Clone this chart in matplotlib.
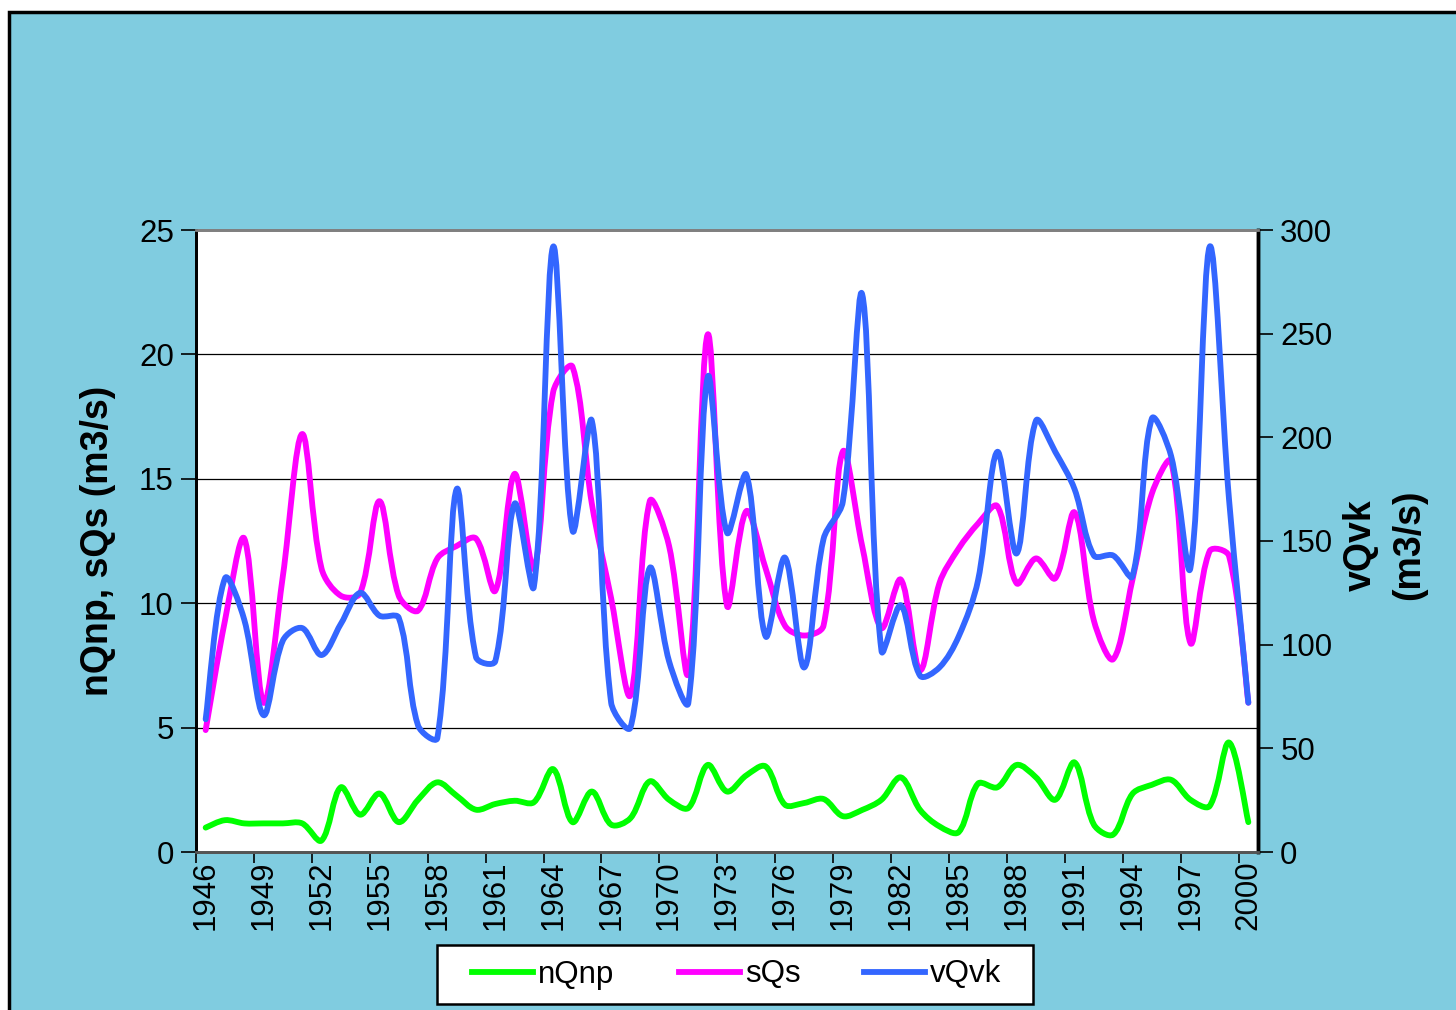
import numpy as np
import matplotlib
matplotlib.use("Agg")
import matplotlib.pyplot as plt
from matplotlib.path import Path
from matplotlib.patches import PathPatch, Rectangle
from matplotlib.lines import Line2D

plt.rcParams['font.family'] = ['Liberation Sans', 'DejaVu Sans']

years = list(range(1946, 2001))

nQnp = [0.98, 1.28, 1.15, 1.15, 1.15, 1.15, 0.46, 2.6, 1.5, 2.35,
        1.2, 2.1, 2.8, 2.26, 1.7, 1.93, 2.06, 2.0, 3.33, 1.2,
        2.43, 1.1, 1.36, 2.84, 2.1, 1.77, 3.5, 2.43, 3.08, 3.44,
        1.9, 1.97, 2.13, 1.44, 1.69, 2.1, 3.0, 1.69, 1.03, 0.8,
        2.75, 2.6, 3.5, 3.0, 2.1, 3.6, 1.1, 0.7, 2.34, 2.7,
        2.9, 2.1, 1.85, 4.4, 1.2]

sQs = [4.9, 9.3, 12.6, 6.0, 11.1, 16.8, 11.4, 10.3, 10.4, 14.1,
       10.3, 9.7, 11.8, 12.3, 12.6, 10.5, 15.2, 11.4, 18.5, 19.5,
       14.0, 10.2, 6.3, 14.1, 12.3, 7.2, 20.8, 9.9, 13.7, 11.4,
       9.1, 8.7, 9.1, 16.1, 12.3, 9.0, 10.95, 7.3, 10.8, 12.2,
       13.2, 13.9, 10.8, 11.8, 11.0, 13.65, 9.3, 7.75, 10.95, 14.4,
       15.7, 8.4, 12.1, 11.9, 6.0]

vQvk = [64, 132, 112, 66, 102, 108, 95, 110, 125, 114,
        113, 61, 55, 175, 94, 92, 168, 128, 292, 155,
        208, 72, 60, 137, 92, 72, 229, 154, 182, 104,
        142, 89, 151, 169, 269, 97, 119, 85, 89, 104,
        131, 193, 144, 208, 193, 175, 143, 143, 133, 209,
        191, 137, 292, 170, 72]

left_ticks = [0, 5, 10, 15, 20, 25]
right_ticks = [0, 50, 100, 150, 200, 250, 300]

BG = '#80CCE0'
C_N, C_S, C_V = '#00FF00', '#FF00FF', '#3366FF'
LW = 4.2

W, H = 1456, 1010
AX_L, AX_R, AX_T, AX_B = 196, 1258, 230, 852


def smooth_path(yv, ymax):
    """Smoothed line (Bezier through every data point, tangents scaled by
    neighbouring segment lengths in screen space, like a spreadsheet's
    'smoothed line' option)."""
    n = len(yv)
    x = np.arange(n, dtype=float)
    y = np.asarray(yv, dtype=float)
    sx = (AX_R - AX_L) / n
    sy = (AX_B - AX_T) / ymax
    P = np.column_stack([x * sx, y * sy])

    def d(a, b):
        return np.hypot(*(P[b] - P[a]))

    verts = [tuple(P[0])]
    codes = [Path.MOVETO]
    for i in range(n - 1):
        ip = max(i - 1, 0)
        inn = min(i + 2, n - 1)
        d0 = d(ip, i) if i > 0 else 0.0
        d1 = d(i, i + 1)
        d2 = d(i + 1, inn) if i + 2 <= n - 1 else 0.0
        T1 = P[i + 1] - P[ip]
        T2 = P[inn] - P[i]
        f1 = d1 / (d0 + d1) / 3 if i > 0 else 1 / 3
        f2 = d1 / (d1 + d2) / 3 if i + 2 <= n - 1 else 1 / 3
        if i == 0:
            T1 = (P[i + 1] - P[i]) * 0.5
        if i + 2 > n - 1:
            T2 = (P[i + 1] - P[i]) * 0.5
        c1 = P[i] + T1 * f1
        c2 = P[i + 1] - T2 * f2
        verts += [tuple(c1), tuple(c2), tuple(P[i + 1])]
        codes += [Path.CURVE4] * 3
    V = np.array(verts)
    V[:, 0] /= sx
    V[:, 1] /= sy
    return Path(V, codes)


fig = plt.figure(figsize=(W / 100, H / 100), dpi=100, facecolor='white')
fig.patches.append(Rectangle((8.5 / W, -0.05), 1.1, 1 - 11.5 / H + 0.05,
                             transform=fig.transFigure, facecolor=BG,
                             edgecolor='black', linewidth=2.5, zorder=-10))

ax = fig.add_axes([AX_L / W, 1 - AX_B / H, (AX_R - AX_L) / W, (AX_B - AX_T) / H])
ax.set_facecolor('white')
ax2 = ax.twinx()

n = len(years)
ax.set_xlim(-0.5, n - 0.5)
ax.set_ylim(0, 25)
ax2.set_ylim(0, 300)

for yv in left_ticks[1:-1]:
    ax.axhline(yv, color='black', linewidth=0.9, zorder=1)

kw = dict(facecolor='none', linewidth=LW, capstyle='round', joinstyle='round', zorder=3)
ax.add_patch(PathPatch(smooth_path(nQnp, 25), edgecolor=C_N, **kw))
ax.add_patch(PathPatch(smooth_path(sQs, 25), edgecolor=C_S, **kw))
ax2.add_patch(PathPatch(smooth_path(vQvk, 300), edgecolor=C_V, **kw))
# paths are in index units starting at 0 -> already aligned with xlim

lab_idx = list(range(0, n, 3))
ax.set_xticks(lab_idx)
ax.set_xticklabels([str(years[i]) for i in lab_idx], rotation=90, fontsize=22.5)
ax.tick_params(axis='x', which='major', length=0, pad=6)
ax.set_xticks([i - 0.5 for i in range(0, n + 1, 3)], minor=True)
ax.tick_params(axis='x', which='minor', length=8, width=1.2, direction='out')

ax.set_yticks(left_ticks)
ax.set_yticklabels([str(t) for t in left_ticks], fontsize=22.5)
ax.tick_params(axis='y', length=11, width=1.2, direction='out', pad=5)
ax2.set_yticks(right_ticks)
ax2.set_yticklabels([str(t) for t in right_ticks], fontsize=22.5)
ax2.tick_params(axis='y', length=11, width=1.2, direction='out', pad=5)

for a in (ax, ax2):
    a.spines['top'].set_color('#808080')
    a.spines['top'].set_linewidth(2)
    a.spines['left'].set_linewidth(2)
    a.spines['right'].set_linewidth(2.5)
    a.spines['bottom'].set_color('#555555')
    a.spines['bottom'].set_linewidth(2)

fig.text(98 / W, 1 - 541 / H, 'nQnp, sQs (m3/s)', rotation=90, fontsize=27,
         fontweight='bold', ha='center', va='center')
fig.text(1385 / W, 1 - 545 / H, 'vQvk\n(m3/s)', rotation=90, fontsize=27,
         fontweight='bold', ha='center', va='center', linespacing=1.45)

# legend box
fig.patches.append(Rectangle((437 / W, 1 - 1004 / H), (1033 - 437) / W, 59 / H,
                             transform=fig.transFigure, facecolor='white',
                             edgecolor='black', linewidth=1.8, zorder=5))
handles = [Line2D([], [], color=C_N, linewidth=LW),
           Line2D([], [], color=C_S, linewidth=LW),
           Line2D([], [], color=C_V, linewidth=LW)]
leg = fig.legend(handles, ['nQnp', 'sQs', 'vQvk'], loc='center',
                 bbox_to_anchor=(737 / W, 1 - 974.5 / H), ncol=3, fontsize=22.5,
                 frameon=False, handlelength=1.95, handletextpad=0.16,
                 columnspacing=2.05, borderpad=0.3, borderaxespad=0)
leg.set_zorder(6)

fig.savefig('out.png', dpi=100, facecolor='white')
